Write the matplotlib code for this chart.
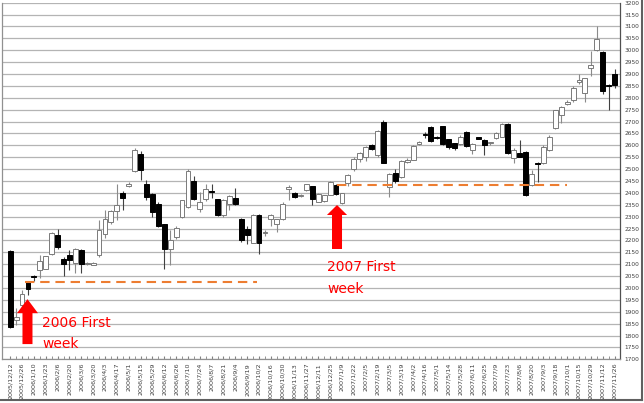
import matplotlib
matplotlib.use('Agg')
import matplotlib.pyplot as plt
from matplotlib.patches import FancyArrow
from matplotlib.lines import Line2D
import numpy as np

dates = ["2005/12/12", "2005/12/26", "2006/1/10", "2006/1/23", "2006/2/6", "2006/2/20",
         "2006/3/6", "2006/3/20", "2006/4/3", "2006/4/17", "2006/5/1", "2006/5/15",
         "2006/5/29", "2006/6/12", "2006/6/26", "2006/7/10", "2006/7/24", "2006/8/7",
         "2006/8/21", "2006/9/4", "2006/9/19", "2006/10/2", "2006/10/16", "2006/10/30",
         "2006/11/13", "2006/11/27", "2006/12/11", "2006/12/25", "2007/1/9", "2007/1/22",
         "2007/2/5", "2007/2/19", "2007/3/5", "2007/3/19", "2007/4/2", "2007/4/16",
         "2007/5/1", "2007/5/14", "2007/5/28", "2007/6/11", "2007/6/25", "2007/7/9",
         "2007/7/23", "2007/8/6", "2007/8/20", "2007/9/3", "2007/9/18", "2007/10/1",
         "2007/10/15", "2007/10/29", "2007/11/12", "2007/11/26"]

opens = [2157, 1865, 1930, 2027, 2050, 2075, 2081, 2143, 2222, 2123,
         2139, 2103, 2158, 2100, 2098, 2137, 2225, 2278, 2324, 2400,
         2430, 2490, 2565, 2436, 2395, 2355, 2268, 2165, 2214, 2298,
         2340, 2449, 2333, 2375, 2410, 2373, 2306, 2352, 2380, 2290,
         2248, 2190, 2305, 2233, 2292, 2270, 2291, 2415, 2400, 2385,
         2412, 2428, 2362, 2365, 2393, 2435, 2359, 2443, 2502, 2544,
         2550, 2603, 2560, 2697, 2424, 2484, 2466, 2530, 2540, 2605,
         2648, 2678, 2637, 2680, 2625, 2608, 2605, 2655, 2582, 2633,
         2622, 2608, 2632, 2637, 2690, 2545, 2568, 2573, 2432, 2527,
         2525, 2580, 2672, 2728, 2775, 2789, 2865, 2822, 2925, 3000,
         2992, 2853, 2900]
highs = [2160, 1915, 1990, 2030, 2053, 2140, 2136, 2235, 2248, 2130,
         2161, 2170, 2165, 2108, 2110, 2284, 2330, 2330, 2439, 2410,
         2445, 2587, 2575, 2453, 2400, 2360, 2270, 2242, 2260, 2372,
         2500, 2470, 2404, 2439, 2439, 2375, 2375, 2390, 2422, 2295,
         2260, 2312, 2310, 2245, 2310, 2292, 2360, 2435, 2402, 2395,
         2438, 2430, 2400, 2392, 2450, 2436, 2400, 2478, 2550, 2572,
         2598, 2607, 2665, 2705, 2485, 2500, 2537, 2545, 2600, 2618,
         2655, 2682, 2640, 2683, 2628, 2610, 2645, 2662, 2608, 2636,
         2625, 2615, 2656, 2693, 2695, 2590, 2622, 2575, 2495, 2530,
         2600, 2645, 2750, 2765, 2790, 2848, 2900, 2885, 2995, 3100,
         2995, 2858, 2920]
lows = [1832, 1845, 1905, 1970, 2030, 2040, 2078, 2140, 2165, 2052,
        2074, 2061, 2061, 2095, 2095, 2130, 2210, 2270, 2285, 2330,
        2425, 2488, 2455, 2369, 2300, 2255, 2080, 2095, 2208, 2295,
        2335, 2369, 2319, 2365, 2380, 2303, 2300, 2330, 2350, 2195,
        2185, 2188, 2145, 2220, 2260, 2235, 2288, 2370, 2380, 2383,
        2410, 2348, 2360, 2362, 2390, 2390, 2355, 2430, 2490, 2530,
        2535, 2580, 2550, 2525, 2383, 2440, 2462, 2525, 2537, 2600,
        2630, 2612, 2625, 2600, 2583, 2580, 2600, 2595, 2562, 2625,
        2559, 2600, 2625, 2635, 2565, 2527, 2550, 2388, 2430, 2445,
        2520, 2575, 2670, 2695, 2770, 2782, 2860, 2783, 2892, 2995,
        2815, 2750, 2840]
closes = [1835, 1880, 1975, 1997, 2046, 2112, 2133, 2232, 2171, 2100,
          2116, 2162, 2099, 2105, 2106, 2245, 2289, 2322, 2350, 2380,
          2438, 2580, 2495, 2383, 2320, 2259, 2162, 2200, 2254, 2368,
          2490, 2373, 2362, 2418, 2405, 2306, 2369, 2387, 2355, 2200,
          2222, 2308, 2190, 2237, 2305, 2290, 2355, 2425, 2383, 2392,
          2436, 2376, 2397, 2390, 2446, 2397, 2398, 2475, 2544, 2568,
          2595, 2583, 2662, 2527, 2480, 2452, 2534, 2540, 2596, 2612,
          2643, 2620, 2630, 2606, 2595, 2588, 2636, 2597, 2604, 2628,
          2602, 2612, 2653, 2690, 2568, 2580, 2553, 2392, 2481, 2520,
          2592, 2635, 2748, 2760, 2783, 2843, 2875, 2882, 2938, 3047,
          2830, 2848, 2855]

support_levels = [2027, 2435]
notes = ["2006 First", "week", "2007 First", "week"]

W, H = 644, 403
fig = plt.figure(figsize=(W / 100, H / 100), dpi=100)
ax = fig.add_axes([2 / W, 1 - 359.3 / H, (620 - 2) / W, (359.3 - 2.7) / H])

n = len(opens)
x = np.arange(n)
o = np.array(opens, float)
c = np.array(closes, float)
hi = np.array(highs, float)
lo = np.array(lows, float)
up = c >= o

ax.set_xlim(-1.38, 102.92)
ax.set_ylim(1700, 3200)

# wicks
ax.vlines(x[up], lo[up], hi[up], colors='#8a8a8a', lw=0.8, zorder=2)
ax.vlines(x[~up], lo[~up], hi[~up], colors='#404040', lw=0.8, zorder=2)
# bodies
body = np.maximum(np.abs(c - o), 2.0)
bottom = np.minimum(o, c)
ax.bar(x[up], body[up], bottom=bottom[up], width=0.82, color='white',
       edgecolor='#7a7a7a', linewidth=0.7, zorder=3)
ax.bar(x[~up], body[~up], bottom=bottom[~up], width=0.82, color='black',
       edgecolor='black', linewidth=0.7, zorder=3)

# grid & axes
ax.set_yticks(np.arange(1700, 3201, 50))
ax.yaxis.grid(True, color='#b4b4b4', lw=0.9, zorder=0)
ax.set_axisbelow(True)
ax.yaxis.tick_right()
ax.tick_params(axis='y', which='both', length=0, pad=3.5, labelsize=4.2,
               labelcolor='#404040')
ax.set_xticks(np.arange(0, n, 2))
ax.set_xticklabels(dates, rotation=90, fontsize=4.6, color='#404040')
ax.set_xticks(np.arange(1, n, 2), minor=True)
ax.tick_params(axis='x', which='both', direction='in', length=2.5, color='#808080', pad=2.5)
for s in ['left', 'bottom']:
    ax.spines[s].set_color('#909090')
    ax.spines[s].set_linewidth(0.9)
ax.spines['right'].set_color('#505050')
ax.spines['right'].set_linewidth(0.9)
ax.spines['top'].set_visible(False)

# dashed support lines
dash_color = '#ED7D31'
ax.hlines(support_levels[0], 2.5, 41.6, colors=dash_color, linestyles=(0, (4.5, 2.8)), lw=1.5, zorder=4)
ax.hlines(support_levels[1], 55.2, 94.0, colors=dash_color, linestyles=(0, (4.5, 2.8)), lw=1.5, zorder=4)

# arrows
ax.add_patch(FancyArrow(2.92, 1764, 0, 1953 - 1764, width=1.69, head_width=3.54,
                        head_length=59, length_includes_head=True, color='#FF0000', lw=0, zorder=5))
ax.add_patch(FancyArrow(55.16, 2164, 0, 2349 - 2164, width=1.69, head_width=3.4,
                        head_length=42, length_includes_head=True, color='#FF0000', lw=0, zorder=5))

# notes
ax.text(5.37, 1836, notes[0], color='#FF0000', fontsize=10, va='baseline', ha='left', zorder=6)
ax.text(5.37, 1746, notes[1], color='#FF0000', fontsize=10, va='baseline', ha='left', zorder=6)
ax.text(53.47, 2073, notes[2], color='#FF0000', fontsize=10, va='baseline', ha='left', zorder=6)
ax.text(53.47, 1977, notes[3], color='#FF0000', fontsize=10, va='baseline', ha='left', zorder=6)

# outer frame shadow (right and bottom)
fig.add_artist(Line2D([0, 641.5 / W], [1 - 399.5 / H] * 2, transform=fig.transFigure,
                      color='#606060', lw=1.5))
fig.add_artist(Line2D([641.5 / W] * 2, [1, 1 - 399.5 / H], transform=fig.transFigure,
                      color='#606060', lw=1.5))

fig.savefig('out.png', dpi=100)
